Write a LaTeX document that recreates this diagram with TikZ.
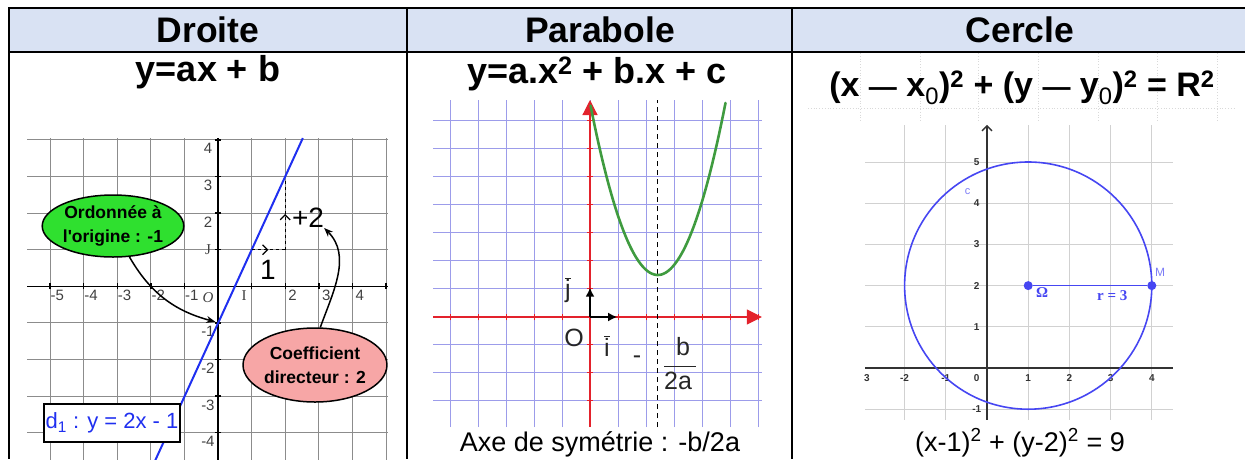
\documentclass[tikz,border=0pt]{standalone}
\usepackage{fontspec}
\setmainfont{Liberation Sans}
\newfontfamily\serifschrift{Liberation Serif}
\usetikzlibrary{arrows.meta,decorations.markings,shapes.geometric}

\definecolor{kopfblau}{HTML}{D9E2F3}
\definecolor{gitterblau}{HTML}{9C9CEA}
\definecolor{achsrot}{HTML}{E3222C}
\definecolor{kurvengruen}{HTML}{3F9B3F}
\definecolor{ovalgruen}{HTML}{2FE02F}
\definecolor{ovalrosa}{HTML}{F7A6A6}
\definecolor{kreisblau}{HTML}{4646F2}
\definecolor{geradenblau}{HTML}{1F2FF0}

\begin{document}
\begin{tikzpicture}[%
        x=1pt, y=-1pt, % Pixelkoordinaten
        >={Stealth[length=9pt,width=7pt]}, % Voreinstellung für Pfeilspitzen
        rahmen/.style={line width=2pt},
        titel/.style={font=\fontsize{35.5}{35.5}\selectfont\bfseries, inner sep=0pt},
        formel/.style={font=\fontsize{36}{36}\selectfont\bfseries, inner sep=0pt},
        unten/.style={font=\fontsize{27}{27}\selectfont, inner sep=0pt},
        gitter/.style={draw=black!45, line width=0.9pt},
        achse/.style={draw=black, line width=1.4pt},
        zahl/.style={font=\fontsize{15}{15}\selectfont, text=black!75, inner sep=0pt},
        gross/.style={font=\fontsize{28}{28}\selectfont, inner sep=0pt},
        oval/.style={ellipse, draw, line width=1.5pt, inner sep=0pt, align=center,
            font=\fontsize{17.5}{24}\selectfont\bfseries},
        bogen/.style={->, line width=1.5pt},
        stufe/.style={dashed, line width=1.2pt, postaction={decorate},
            decoration={markings, mark=at position 0.5 with {\arrow{Straight Barb[length=5pt]}}}},
        gleichung/.style={draw, line width=1.5pt, fill=white, text=geradenblau,
            minimum width=136pt, minimum height=38pt, inner sep=0pt,
            font=\fontsize{22}{22}\selectfont},
        blaugitter/.style={draw=gitterblau, line width=0.9pt},
        rotachse/.style={draw=achsrot, line width=1.2pt,
            -{Triangle[length=15pt,width=15pt]}},
        vektor/.style={draw=black, line width=2pt, -{Latex[length=9pt,width=9pt]}},
        beschr/.style={font=\fontsize{25}{25}\selectfont, text=black!85, inner sep=0pt},
        grauraster/.style={draw=black!18, line width=0.9pt},
        kleinzahl/.style={font=\fontsize{10}{10}\selectfont\bfseries, text=black!80, inner sep=0pt},
        punkt/.style={circle, fill=kreisblau, inner sep=0pt, minimum size=9pt},
        hilfslinie/.style={draw=black!15, dotted, line width=0.8pt}
    ]
    \useasboundingbox (0,0) rectangle (1245,459);

    % Tabelle
    \fill[kopfblau] (9,8) rectangle (1245,52);
    \draw[rahmen] (1245,8) -- (9,8) -- (9,459)
                  (9,52) -- (1245,52)
                  (407,8) -- (407,459)
                  (792,8) -- (792,459);

    \node[titel] (droite)   at (208,30) {Droite};
    \node[titel] (parabole) at (600,30) {Parabole};
    \node[titel] (cercle)   at (1020,30) {Cercle};

    % Spalte 1: Gerade
    \node[formel] (glA) at (208,72) {y=ax + b};

    \begin{scope}[shift={(218,286.3)}, x=33.6pt, y=36.6pt]
        \foreach \i in {-5,...,5}
            \draw[gitter] (\i,-4.75) -- (\i,4.05);
        \foreach \j in {-4,...,4}
            \draw[gitter] (-5.68,\j) -- (5.06,\j);
        \draw[achse] (-5.68,0) -- (5.06,0)
                     (0,-4.75) -- (0,4.05);
        \foreach \i in {-5,...,5}
            \draw[achse] (\i,-0.08) -- (\i,0.08);
        \foreach \j in {-4,...,4}
            \draw[achse] (-0.09,\j) -- (0.09,\j);

        \foreach \i in {-5,...,-1,2,3,4}
            \node[zahl] (xl\i) at (\i+0.22,-0.24) {\i};
        \foreach \j in {-4,...,-1,2,3,4}
            \node[zahl] (yl\j) at (-0.3,\j-0.24) {\j};
        \node[zahl] (lO) at (-0.3,-0.3) {\serifschrift\itshape O};
        \node[zahl] (lI) at (0.78,-0.24) {\serifschrift I};
        \node[zahl] (lJ) at (-0.3,1) {\serifschrift J};

        \draw[geradenblau, line width=2pt] (-1.865,-4.75) -- (2.525,4.05);

        \coordinate (s1) at (1,1);
        \coordinate (s2) at (2,1);
        \coordinate (s3) at (2,2.95);
        \coordinate (ab) at (-0.08,-0.97);
        \draw[stufe] (s1) -- (s2);
        \draw[stufe] (s2) -- (s3);
    \end{scope}

    \node[gross] (eins) at (268,270) {1};
    \node[gross] (plus) at (308,218) {+2};

    \node[oval, fill=ovalgruen, minimum width=125pt, minimum height=62pt]
        (ovalA) at (113,226) {Ordonnée à\\l\textquotesingle origine : -1};
    \node[oval, fill=ovalrosa, minimum width=130pt, minimum height=74pt]
        (ovalB) at (315,365) {Coefficient\\directeur : 2};

    \draw[bogen] (ovalA.-62) to[out=-60, in=165] (ab);
    \draw[bogen] (ovalB.82) to[out=70, in=-45] (plus.south east);

    \node[gleichung] (dgl) at (112,423) {d\textsubscript{1} : y = 2x - 1};

    % Spalte 2: Parabel
    \node[formel] (glB) at (597,74) {y=a.x\textsuperscript{2} + b.x + c};

    \begin{scope}[shift={(590,317)}, x=28pt, y=28pt]
        \foreach \i in {-5,...,6}
            \draw[blaugitter] (\i,-3.93) -- (\i,7.75);
        \foreach \k in {-3,-2,-1,1,2,3,4,5,6,7}
            \draw[blaugitter] (-5.6,\k+0.02) -- (6.14,\k+0.02);
        \draw[rotachse] (-5.6,0) -- (6.14,0);
        \draw[rotachse] (0,-3.93) -- (0,7.75);
        \foreach \i in {-5,...,6}
            \draw[achsrot, line width=1pt] (\i,-0.12) -- (\i,0.12);
        \foreach \k in {-3,-2,-1,1,2,3,4,5,6,7}
            \draw[achsrot, line width=1.2pt] (-0.12,\k+0.02) -- (0.12,\k+0.02);

        \draw[black, line width=1.3pt, dash pattern=on 5pt off 4pt] (2.42,-3.93) -- (2.42,7.75);
        \draw[kurvengruen, line width=2.6pt, line cap=round]
            plot[domain=0.02:4.84, samples=60, smooth] (\x,{1.05*(\x-2.42)^2+1.5});

        \coordinate (o2) at (0,0);
        \coordinate (vi) at (0.97,0);
        \coordinate (vj) at (0,1.05);
        \draw[vektor] (o2) -- (vj);
        \draw[vektor] (o2) -- (vi);
    \end{scope}

    \node[beschr] (lj)  at (568,290) {$\overline{\mbox{j}}$};
    \node[beschr] (lo)  at (574,338) {O};
    \node[beschr] (li)  at (607,346) {$\overline{\mbox{i}}$};
    \node[beschr] (lmi) at (637,360) {-};
    \node[beschr] (lbr) at (680,364) {$\displaystyle\frac{\mbox{\hspace{6pt}b}}{\mbox{2a\hspace{4pt}}}$};

    \node[unten, anchor=base] (axe) at (600,451) {Axe de symétrie : -b/2a};

    % Spalte 3: Kreis
    \foreach \h in {860,920,978,1038,1098,1157,1217}
        \draw[hilfslinie] (\h,53) -- (\h,122);
    \draw[hilfslinie] (808,108) -- (1236,108);
    \node[formel, font=\fontsize{34}{34}\selectfont\bfseries] (glC) at (1022,88)
        {(x {\fontsize{28}{28}\selectfont—} x\textsubscript{\mdseries 0})\textsuperscript{2}
         + (y {\fontsize{28}{28}\selectfont—} y\textsubscript{\mdseries 0})\textsuperscript{2}
         = R\textsuperscript{2}};

    \begin{scope}[shift={(987,368)}, x=41.2pt, y=41.2pt]
        \foreach \i in {-2,...,4}
            \draw[grauraster] (\i,-1.26) -- (\i,5.9);
        \foreach \j in {-1,...,5}
            \draw[grauraster] (-2.96,\j) -- (4.51,\j);
        \draw[draw=black!80, line width=1.3pt] (-2.96,0) -- (4.51,0);
        \draw[draw=black!80, line width=1.3pt, -{Straight Barb[length=5pt]}] (0,-1.26) -- (0,5.9);

        \foreach \j in {-1,1,2,...,5}
            \node[kleinzahl] (kl\j) at (-0.25,\j) {\j};
        \foreach \i in {-2,-1,1,2,3,4}
            \node[kleinzahl] (kx\i) at (\i,-0.24) {\i};
        \node[kleinzahl] (kx0) at (-0.25,-0.24) {0};
        \node[kleinzahl, anchor=west] (kx3) at (-2.99,-0.24) {3};

        \draw[kreisblau, line width=1.6pt] (1,2) circle (3);

        \node[punkt] (omega) at (1,2) {};
        \node[punkt] (mpkt)  at (4,2) {};
        \draw[kreisblau, line width=1.6pt] (omega) -- (mpkt);

        \node[font=\fontsize{15}{15}\selectfont\serifschrift\bfseries, text=kreisblau, inner sep=0pt]
            (lom) at (1.34,1.83) {Ω};
        \node[font=\fontsize{15}{15}\selectfont\serifschrift\bfseries, text=kreisblau, inner sep=0pt]
            (lr) at (3.04,1.76) {r = 3};
        \node[font=\fontsize{12}{12}\selectfont, text=kreisblau!70, inner sep=0pt]
            (lM) at (4.2,2.32) {M};
        \node[font=\fontsize{11}{11}\selectfont, text=kreisblau!70, inner sep=0pt]
            (lc) at (-0.47,4.27) {c};
    \end{scope}

    \node[unten, anchor=base] (kgl) at (1020,451)
        {(x-1)\textsuperscript{2} + (y-2)\textsuperscript{2} = 9};
\end{tikzpicture}
\end{document}
